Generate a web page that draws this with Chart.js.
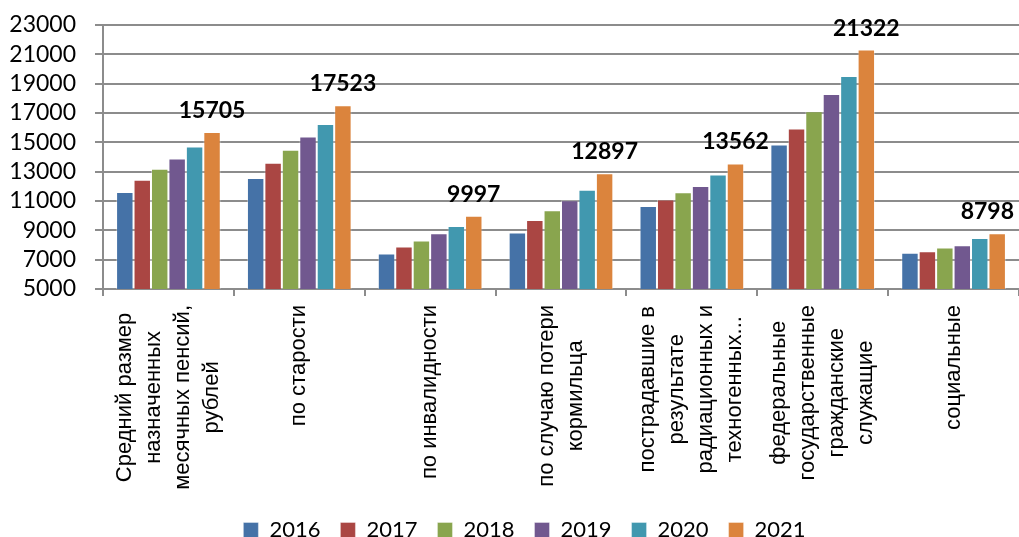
<!DOCTYPE html>
<html>
<head>
<meta charset="utf-8">
<script src="https://cdn.jsdelivr.net/npm/chart.js@4"></script>
<style>
  html, body { margin: 0; padding: 0; background: #ffffff; }
  #wrap { width: 1019px; height: 537px; }
</style>
</head>
<body>
<div id="wrap"><canvas id="chart" width="1019" height="537"></canvas></div>
<script>
// Pension categories (multi-line labels)
const categories = [
  ["Средний размер", "назначенных", "месячных пенсий,", "рублей"],
  ["по старости"],
  ["по инвалидности"],
  ["по случаю потери", "кормильца"],
  ["пострадавшие в", "результате", "радиационных и", "техногенных..."],
  ["федеральные", "государственные", "гражданские", "служащие"],
  ["социальные"]
];

const years = ["2016", "2017", "2018", "2019", "2020", "2021"];

const values2016 = [11610, 12562, 7425, 8852, 10659, 14851, 7466];
const values2017 = [12452, 13607, 7900, 9708, 11094, 15938, 7581];
const values2018 = [13200, 14490, 8308, 10367, 11590, 17113, 7833];
const values2019 = [13900, 15394, 8804, 11046, 12018, 18295, 7989];
const values2020 = [14715, 16257, 9300, 11773, 12812, 19517, 8485];
const values2021 = [15705, 17523, 9997, 12897, 13562, 21322, 8798];

const yMin = 5000;
const yMax = 23000;
const yStep = 2000;

const colors = ["#4572A7", "#AA4643", "#89A54E", "#71588F", "#4198AF", "#DB843D"];
const seriesValues = [values2016, values2017, values2018, values2019, values2020, values2021];

// Value labels above the 2021 bars
const valueLabels = {
  id: "valueLabels",
  afterDatasetsDraw(chart) {
    const idx = seriesValues.length - 1;
    const meta = chart.getDatasetMeta(idx);
    const ctx = chart.ctx;
    const area = chart.chartArea;
    ctx.save();
    ctx.font = "bold 23px Lato";
    ctx.fillStyle = "#000000";
    ctx.textAlign = "center";
    ctx.textBaseline = "alphabetic";
    meta.data.forEach((bar, i) => {
      const text = String(chart.data.datasets[idx].data[i]);
      const w = ctx.measureText(text).width;
      let x = bar.x;
      if (x + w / 2 > area.right - 5) x = area.right - 5 - w / 2;
      ctx.fillText(text, x, bar.y - 14);
    });
    ctx.restore();
  }
};

// Vertical, centered multi-line category labels under the x axis
const categoryLabels = {
  id: "categoryLabels",
  afterDraw(chart) {
    const xs = chart.scales.x;
    const ctx = chart.ctx;
    const top = chart.chartArea.bottom + 16;
    const lineStep = 29;
    ctx.save();
    ctx.font = "22px 'Liberation Sans'";
    ctx.fillStyle = "#000000";
    ctx.textAlign = "center";
    ctx.textBaseline = "middle";
    categories.forEach((lines, i) => {
      const cx = xs.getPixelForValue(i);
      const maxW = Math.max(...lines.map(l => ctx.measureText(l).width));
      const n = lines.length;
      lines.forEach((line, j) => {
        const lx = cx + (j - (n - 1) / 2) * lineStep;
        ctx.save();
        ctx.translate(lx, top + maxW / 2);
        ctx.rotate(-Math.PI / 2);
        ctx.fillText(line, 0, 0);
        ctx.restore();
      });
    });
    ctx.restore();
  }
};

// Nudge the bottom legend a little to the right and down
const legendOffset = {
  id: "legendOffset",
  afterLayout(chart) {
    if (chart.legend) {
      chart.legend.left += 10;
      chart.legend.right += 10;
      chart.legend.top += 2;
      chart.legend.bottom += 2;
    }
  }
};

new Chart(document.getElementById("chart"), {
  type: "bar",
  data: {
    labels: categories.map(c => c.join(" ")),
    datasets: years.map((y, i) => ({
      label: y,
      data: seriesValues[i],
      backgroundColor: colors[i],
      borderColor: "rgba(255,255,255,0.35)",
      borderWidth: 1,
      categoryPercentage: 0.8,
      barPercentage: 1.0
    }))
  },
  options: {
    responsive: false,
    animation: false,
    devicePixelRatio: 1,
    layout: { padding: { top: 25, left: 10, right: 0, bottom: -12 } },
    plugins: {
      legend: {
        position: "bottom",
        labels: {
          boxWidth: 15,
          boxHeight: 15,
          padding: 20,
          color: "#000000",
          font: { family: "Lato", size: 22 }
        }
      },
      tooltip: { enabled: false }
    },
    scales: {
      x: {
        offset: true,
        ticks: { display: false },
        grid: {
          offset: true,
          drawOnChartArea: false,
          drawTicks: true,
          tickLength: 7,
          color: "#8c8c8c",
          lineWidth: 2
        },
        border: { color: "#8c8c8c", width: 2 },
        afterFit(scale) { scale.height = 208; }
      },
      y: {
        min: yMin,
        max: yMax,
        ticks: {
          stepSize: yStep,
          autoSkip: false,
          padding: 19,
          color: "#000000",
          font: { family: "Lato", size: 23 },
          callback: v => String(v)
        },
        grid: {
          color: "#8c8c8c",
          lineWidth: 2,
          drawTicks: true,
          tickLength: 8
        },
        border: { color: "#8c8c8c", width: 2 },
        afterFit(scale) {
          scale.width = 93;
          scale.paddingTop = 12;
          scale.paddingBottom = 12;
        }
      }
    }
  },
  plugins: [valueLabels, categoryLabels, legendOffset]
});
</script>
</body>
</html>
